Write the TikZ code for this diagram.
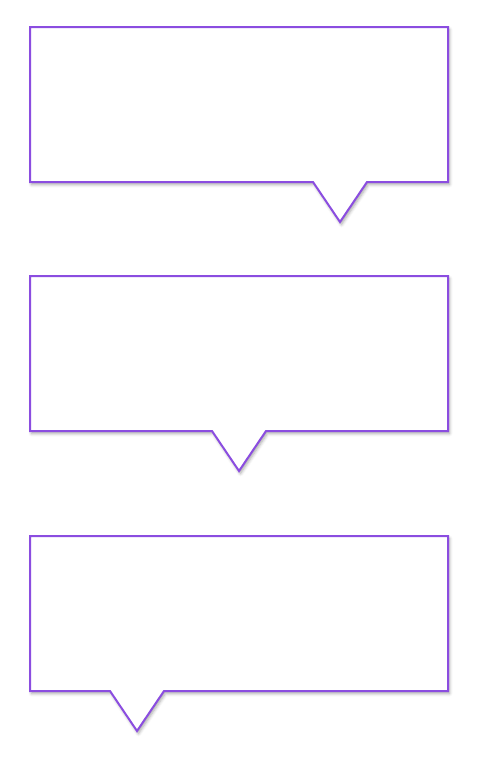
\documentclass[tikz,border=0pt]{standalone}
\usepackage{xcolor}
\usepackage{tikz}
\usetikzlibrary{shadows.blur}
\definecolor{violet}{HTML}{8B4DE0}
\begin{document}
\begin{tikzpicture}[x=1pt,y=-1pt,line join=miter]
\tikzset{bubble/.style={draw=violet,line width=2pt,fill=white,blur shadow={shadow xshift=1.5pt,shadow yshift=-2.5pt,shadow blur radius=3pt,shadow opacity=35}}}
\useasboundingbox (0,0) rectangle (496,772);
\draw[bubble] (30,27)--(448,27)--(448,182)--(367,182)--(340,222)--(313,182)--(30,182)--cycle;
\draw[bubble] (30,276)--(448,276)--(448,431)--(266,431)--(239,471)--(212,431)--(30,431)--cycle;
\draw[bubble] (30,536)--(448,536)--(448,691)--(164,691)--(137,731)--(110,691)--(30,691)--cycle;
\end{tikzpicture}
\end{document}
